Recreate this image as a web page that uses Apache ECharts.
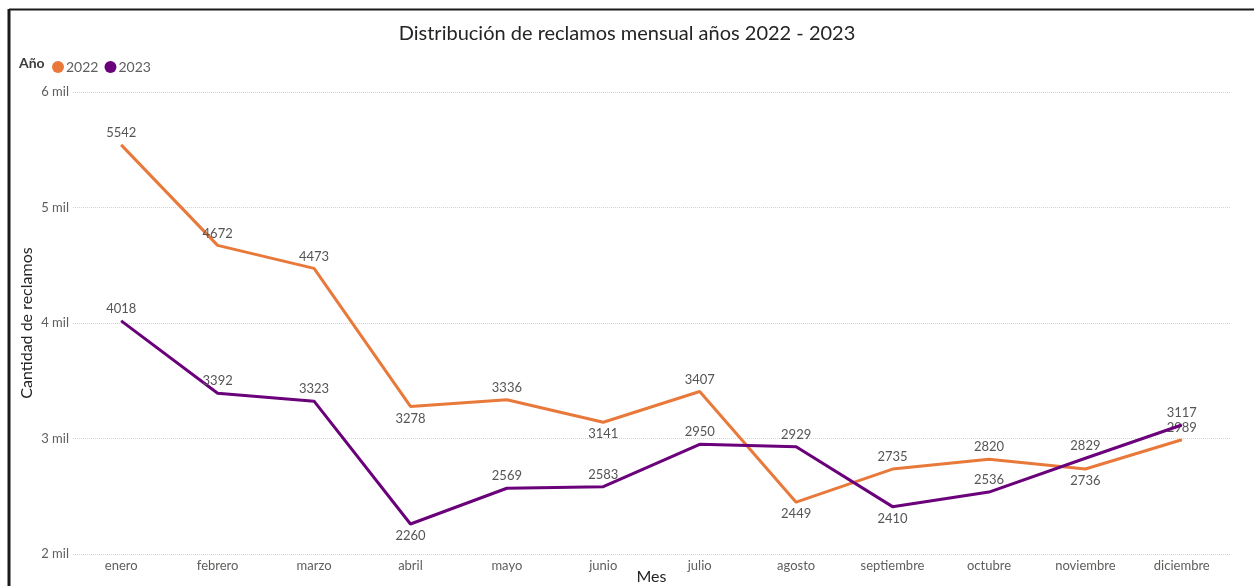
<!DOCTYPE html>
<html>
<head>
<meta charset="utf-8">
<script src="https://cdn.jsdelivr.net/npm/echarts@6/dist/echarts.min.js"></script>
<style>
  html, body { margin: 0; padding: 0; background: #ffffff; overflow: hidden; }
  #chart { width: 1254px; height: 586px; }
</style>
</head>
<body>
<div id="chart"></div>
<script>
const months = ['enero','febrero','marzo','abril','mayo','junio','julio','agosto','septiembre','octubre','noviembre','diciembre'];
const values2022 = [5542, 4672, 4473, 3278, 3336, 3141, 3407, 2449, 2735, 2820, 2736, 2989];
const values2023 = [4018, 3392, 3323, 2260, 2569, 2583, 2950, 2929, 2410, 2536, 2829, 3117];
const labelPos2022 = ['top','top','top','bottom','top','bottom','top','bottom','top','top','bottom','top'];
const labelPos2023 = ['top','top','top','bottom','top','top','top','top','bottom','top','top','top'];
const yTicks = [2000, 3000, 4000, 5000, 6000];

const FONT = '"Segoe UI", Lato, "Open Sans", sans-serif';
const color2022 = '#E8793A';
const color2023 = '#6B007B';

function buildData(vals, pos) {
  return vals.map((v, i) => ({
    value: v,
    label: { position: pos[i] }
  }));
}

const chart = echarts.init(document.getElementById('chart'), null, { renderer: 'canvas' });
chart.setOption({
  backgroundColor: '#ffffff',
  animation: false,
  title: {
    text: 'Distribución de reclamos mensual años 2022 - 2023',
    left: 'center',
    top: 19,
    textStyle: { fontFamily: FONT, fontSize: 20, fontWeight: 'normal', color: '#252423' }
  },
  legend: {
    left: 47,
    top: 55,
    icon: 'circle',
    itemWidth: 12,
    itemHeight: 12,
    itemGap: 6,
    textStyle: { fontFamily: FONT, fontSize: 14, color: '#605E5C', padding: [0, 0, 0, -3] },
    data: ['2022', '2023']
  },
  graphic: [
    { type: 'text', left: 19, top: 56, style: { text: 'Año', fontFamily: FONT, fontSize: 14, fontWeight: 'bold', fill: '#3a3a3a' } },
    { type: 'line', shape: { x1: 9, y1: 9.5, x2: 1254, y2: 9.5 }, style: { stroke: '#1a1a1a', lineWidth: 2 } },
    { type: 'line', shape: { x1: 9, y1: 9, x2: 9, y2: 586 }, style: { stroke: '#1a1a1a', lineWidth: 3 } }
  ],
  grid: { left: 73, right: 24, top: 92, bottom: 32, containLabel: false, outerBoundsMode: 'none' },
  xAxis: {
    type: 'category',
    data: months,
    boundaryGap: true,
    name: 'Mes',
    nameLocation: 'middle',
    nameGap: 15,
    nameMoveOverlap: false,
    nameTextStyle: { fontFamily: FONT, fontSize: 16, color: '#252423' },
    axisLine: { show: false },
    axisTick: { show: false },
    axisLabel: { fontFamily: FONT, fontSize: 13, color: '#605E5C', margin: 5 }
  },
  yAxis: {
    type: 'value',
    min: yTicks[0],
    max: yTicks[yTicks.length - 1],
    interval: 1000,
    name: 'Cantidad de reclamos',
    nameLocation: 'middle',
    nameGap: 38,
    nameMoveOverlap: false,
    nameTextStyle: { fontFamily: FONT, fontSize: 16, color: '#252423' },
    axisLine: { show: false },
    axisTick: { show: false },
    axisLabel: {
      fontFamily: FONT, fontSize: 13, color: '#605E5C', margin: 4,
      formatter: v => (v / 1000) + ' mil'
    },
    splitLine: { show: true, lineStyle: { color: '#D4D4D4', type: 'dotted', width: 1 } }
  },
  series: [
    {
      name: '2022',
      type: 'line',
      data: buildData(values2022, labelPos2022),
      color: color2022,
      lineStyle: { width: 3, color: color2022 },
      symbol: 'circle',
      symbolSize: 1,
      showSymbol: true,
      itemStyle: { color: color2022 },
      label: { show: true, distance: 5, fontFamily: FONT, fontSize: 13, color: '#555555' },
      z: 2
    },
    {
      name: '2023',
      type: 'line',
      data: buildData(values2023, labelPos2023),
      color: color2023,
      lineStyle: { width: 3, color: color2023 },
      symbol: 'circle',
      symbolSize: 1,
      showSymbol: true,
      itemStyle: { color: color2023 },
      label: { show: true, distance: 5, fontFamily: FONT, fontSize: 13, color: '#555555' },
      z: 3
    }
  ]
});
</script>
</body>
</html>
